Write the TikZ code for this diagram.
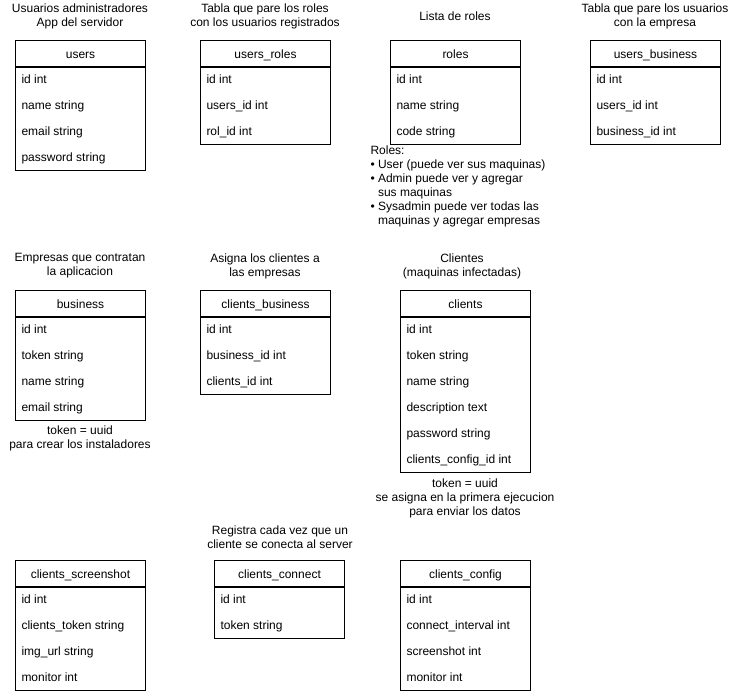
\documentclass[tikz,border=0pt]{standalone}
\usepackage{fontspec}
\setmainfont{Liberation Sans}

\tikzset{
  tblhead/.style={draw, anchor=north west, minimum width=130, minimum height=26, inner sep=0pt,
    text height=10.5, text depth=1.5},
  tblrow/.style={anchor=west, inner sep=0pt, text height=10.5, text depth=1.5},
  note/.style={align=center, inner sep=0pt},
}

% table: name, left, top, number of fields, title, fields
\newcommand{\dbtable}[6]{%
  \node[tblhead] (#1) at (#2,#3) {#5};
  \foreach \fld [count=\i] in {#6} {
    \node[tblrow] (#1-\i) at ({#2+6},{#3+13+26*\i}) {\fld};
  }
  \draw (#1.south west) rectangle ({#2+130},{#3+26+26*#4});
}

\begin{document}
\begin{tikzpicture}[x=1pt, y=-1pt, line width=1pt,
  font=\fontsize{12}{14}\selectfont]
  \useasboundingbox (0,0) rectangle (736,694);

  % First row: users and roles
  \node[note] (usersnote) at (80,16) {Usuarios administradores\\App del servidor};
  \dbtable{users}{15}{40}{4}{users}{id int, name string, email string, password string}

  \node[note] (usersrolesnote) at (265,16) {Tabla que pare los roles\\con los usuarios registrados};
  \dbtable{usersroles}{200}{40}{3}{users\_roles}{id int, users\_id int, rol\_id int}

  \node[note] (rolesnote) at (455,16) {Lista de roles};
  \dbtable{roles}{390}{40}{3}{roles}{id int, name string, code string}
  \node[note, align=left, anchor=west] (roleslist) at (370,186)
    {Roles:\\
     • User (puede ver sus maquinas)\\
     • Admin puede ver y agregar\\
     \hphantom{• }sus maquinas\\
     • Sysadmin puede ver todas las\\
     \hphantom{• }maquinas y agregar empresas};

  \node[note] (usersbusinessnote) at (655,16) {Tabla que pare los usuarios\\con la empresa};
  \dbtable{usersbusiness}{590}{40}{3}{users\_business}{id int, users\_id int, business\_id int}

  % Second row: business and clients
  \node[note] (businessnote) at (80,266) {Empresas que contratan\\la aplicacion};
  \dbtable{business}{15}{290}{4}{business}{id int, token string, name string, email string}
  \node[note] (businesstoken) at (80,438) {token = uuid\\para crear los instaladores};

  \node[note] (clientsbusinessnote) at (265,266) {Asigna los clientes a\\las empresas};
  \dbtable{clientsbusiness}{200}{290}{3}{clients\_business}{id int, business\_id int, clients\_id int}

  \node[note] (clientsnote) at (462,266) {Clientes\\(maquinas infectadas)};
  \dbtable{clients}{400}{290}{6}{clients}{id int, token string, name string, description text, password string, clients\_config\_id int}
  \node[note] (clientstoken) at (465,498) {token = uuid\\se asigna en la primera ejecucion\\para enviar los datos};

  % Third row: screenshots, connections, config
  \dbtable{clientsscreenshot}{15}{560}{4}{clients\_screenshot}{id int, clients\_token string, img\_url string, monitor int}

  \node[note] (clientsconnectnote) at (280,537) {Registra cada vez que un\\cliente se conecta al server};
  \dbtable{clientsconnect}{214}{560}{2}{clients\_connect}{id int, token string}

  \dbtable{clientsconfig}{400}{560}{4}{clients\_config}{id int, connect\_interval int, screenshot int, monitor int}
\end{tikzpicture}
\end{document}
